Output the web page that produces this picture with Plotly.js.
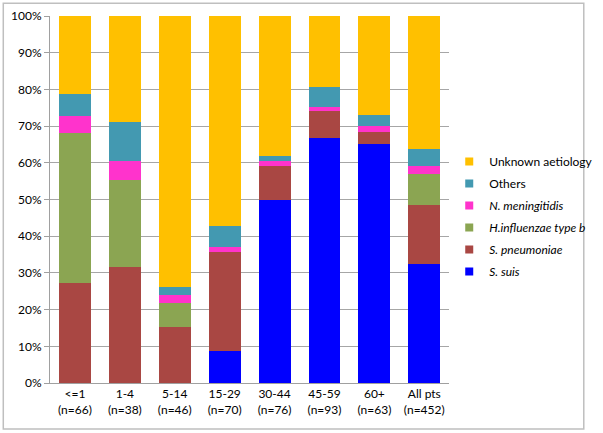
<!DOCTYPE html>
<html>
<head>
<meta charset="utf-8">
<script src="https://cdn.plot.ly/plotly-3.0.1.min.js"></script>
<style>html,body{margin:0;padding:0;background:#fff;}#chart{width:603px;height:433px;}</style>
</head>
<body>
<div id="chart"></div>
<script>
const categories = ["<=1<br>(n=66)", "1-4<br>(n=38)", "5-14<br>(n=46)", "15-29<br>(n=70)", "30-44<br>(n=76)", "45-59<br>(n=93)", "60+<br>(n=63)", "All pts<br>(n=452)"];
const sSuis        = [0, 0, 0, 8.6, 50.0, 66.7, 65.1, 32.5];
const sPneumoniae  = [27.3, 31.6, 15.2, 27.1, 9.2, 7.5, 3.2, 15.9];
const hInfluenzae  = [40.9, 23.7, 6.5, 0, 0, 0, 0, 8.6];
const nMeningitidis= [4.5, 5.3, 2.2, 1.4, 1.3, 1.1, 1.6, 2.2];
const others       = [6.1, 10.5, 2.2, 5.7, 1.3, 5.4, 3.2, 4.6];
const unknown      = [21.2, 28.9, 73.9, 57.1, 38.2, 19.4, 27.0, 36.1];
const yTicks = [0, 10, 20, 30, 40, 50, 60, 70, 80, 90, 100];
const yTickLabels = ["0%", "10%", "20%", "30%", "40%", "50%", "60%", "70%", "80%", "90%", "100%"];

const series = [
  {name: "<i>S. suis</i>", y: sSuis, color: "#0000FF"},
  {name: "<i>S. pneumoniae</i>", y: sPneumoniae, color: "#A94743"},
  {name: "<i>H.influenzae type b</i>", y: hInfluenzae, color: "#8BA552"},
  {name: "<i>N. meningitidis</i>", y: nMeningitidis, color: "#FF33CC"},
  {name: "Others", y: others, color: "#4399B1"},
  {name: "Unknown aetiology", y: unknown, color: "#FFC000"}
];

const traces = [];
series.forEach((s) => {
  traces.push({type: "bar", x: categories, y: s.y, name: s.name, marker: {color: s.color},
    showlegend: false, hoverinfo: "skip"});
});
series.slice().reverse().forEach((s, i) => {
  traces.push({type: "scatter", mode: "markers", x: [null], y: [null], name: s.name,
    legendgroup: "g" + i,
    marker: {symbol: "square", size: 8, color: s.color}, showlegend: true});
});

const F = "Lato, 'Liberation Sans', sans-serif";
const layout = {
  width: 603, height: 433,
  margin: {l: 50, r: 143, t: 16, b: 50},
  barmode: "stack",
  bargap: 0.36,
  paper_bgcolor: "#fff", plot_bgcolor: "#fff",
  font: {family: F, size: 12, color: "#000"},
  xaxis: {type: "category", showgrid: false, showline: true, linecolor: "#A0A0A0", linewidth: 1,
    ticks: "", tickfont: {family: F, size: 12}, fixedrange: true},
  yaxis: {range: [0, 100], tickvals: yTicks, ticktext: yTickLabels, showgrid: true, gridcolor: "#A6A6A6",
    gridwidth: 1, showline: true, linecolor: "#A0A0A0", ticks: "outside", ticklen: 5, tickcolor: "#A0A0A0",
    zeroline: false, tickfont: {family: F, size: 12}, fixedrange: true},
  legend: {xref: "container", yref: "container", x: 0.745, xanchor: "left", y: 0.5, yanchor: "middle",
    traceorder: "grouped", tracegroupgap: 3, font: {family: F, size: 12}, bgcolor: "rgba(0,0,0,0)"},
  shapes: [{type: "rect", xref: "paper", yref: "paper", x0: -0.117, x1: 1.337, y0: -0.125, y1: 1.035,
    line: {color: "#BFBFBF", width: 1.5}, layer: "below"}],
  showlegend: true
};
Plotly.newPlot("chart", traces, layout, {displayModeBar: false, staticPlot: true});
</script>
</body>
</html>
